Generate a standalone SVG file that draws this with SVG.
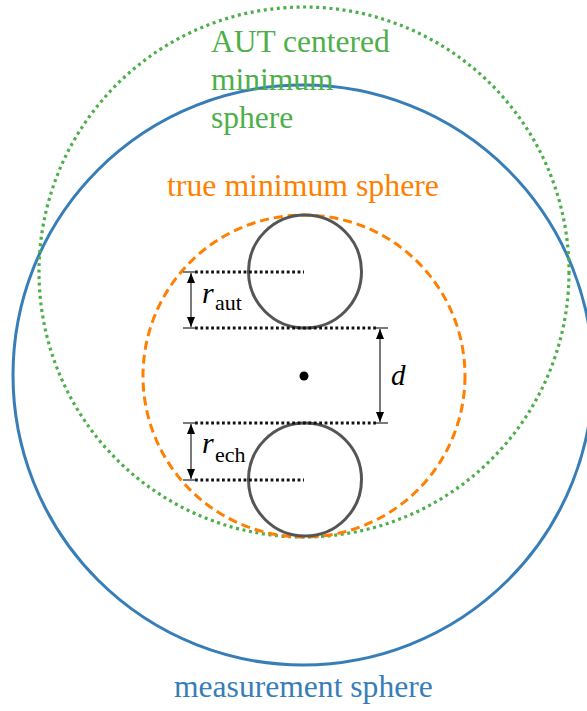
<svg xmlns="http://www.w3.org/2000/svg" width="587" height="711" viewBox="0 0 587 711">
<defs>
  <style>
    .dotline { stroke: #111; stroke-width: 2.8; stroke-dasharray: 2.8 2.6; fill: none; }
    .dim { stroke: #333; stroke-width: 1.3; fill: none; }
    .ball { fill: none; stroke: #555; stroke-width: 3; }
  </style>
  <marker id="ah" viewBox="0 0 10 10" refX="10" refY="5" markerWidth="10" markerHeight="10" markerUnits="userSpaceOnUse" orient="auto-start-reverse">
    <path d="M0,1 L10,5 L0,9 Z" fill="#000"/>
  </marker>
</defs>
<rect width="587" height="711" fill="#fff"/>
<g id="measurement-sphere">
  <circle cx="303" cy="375" r="290" fill="none" stroke="#377eb8" stroke-width="3"/>
  <text font-family="Liberation Serif" font-size="31.6" x="174" y="697" fill="#377eb8">measurement sphere</text>
</g>
<g id="aut-centered-minimum-sphere">
  <circle cx="304" cy="272" r="265" fill="none" stroke="#4daf4a" stroke-width="3.2" stroke-dasharray="3 3.6"/>
  <text font-family="Liberation Serif" font-size="31.5" x="211" y="52" fill="#4daf4a">AUT centered</text>
  <text font-family="Liberation Serif" font-size="31.5" x="211" y="90" fill="#4daf4a">minimum</text>
  <text font-family="Liberation Serif" font-size="31.5" x="211" y="128" fill="#4daf4a">sphere</text>
</g>
<g id="true-minimum-sphere">
  <circle cx="304" cy="376" r="161" fill="none" stroke="#ff7f00" stroke-width="3" stroke-dasharray="9 5"/>
  <text font-family="Liberation Serif" font-size="31.8" x="167" y="196" fill="#ff7f00">true minimum sphere</text>
</g>
<g id="aut-ball">
  <circle class="ball" cx="305" cy="271.5" r="56.5"/>
</g>
<g id="ech-ball">
  <circle class="ball" cx="305" cy="479.5" r="56.5"/>
</g>
<g id="center">
  <circle cx="304" cy="376" r="4.5" fill="#000"/>
</g>
<g id="connectors">
  <line class="dotline" x1="195" y1="272" x2="304" y2="272"/>
  <line class="dotline" x1="195" y1="328" x2="378" y2="328"/>
  <line class="dotline" x1="195" y1="423" x2="378" y2="423"/>
  <line class="dotline" x1="195" y1="480" x2="304" y2="480"/>
  <line class="dim" x1="183" y1="272" x2="196" y2="272"/>
  <line class="dim" x1="183" y1="328" x2="196" y2="328"/>
  <line class="dim" x1="183" y1="423" x2="196" y2="423"/>
  <line class="dim" x1="183" y1="480" x2="196" y2="480"/>
  <line class="dim" x1="376" y1="328" x2="388" y2="328"/>
  <line class="dim" x1="376" y1="423" x2="388" y2="423"/>
  <line class="dim" x1="191" y1="273" x2="191" y2="327" marker-start="url(#ah)" marker-end="url(#ah)"/>
  <line class="dim" x1="191" y1="424" x2="191" y2="479" marker-start="url(#ah)" marker-end="url(#ah)"/>
  <line class="dim" x1="380" y1="329" x2="380" y2="422" marker-start="url(#ah)" marker-end="url(#ah)"/>
</g>
<g id="labels">
  <text font-family="Liberation Serif" font-size="30" font-style="italic" x="202" y="303">r</text>
  <text font-family="Liberation Serif" font-size="22" x="215" y="310">aut</text>
  <text font-family="Liberation Serif" font-size="30" font-style="italic" x="202" y="453">r</text>
  <text font-family="Liberation Serif" font-size="22" x="215" y="462">ech</text>
  <text font-family="Liberation Serif" font-size="29" font-style="italic" x="391" y="385">d</text>
</g>
</svg>
